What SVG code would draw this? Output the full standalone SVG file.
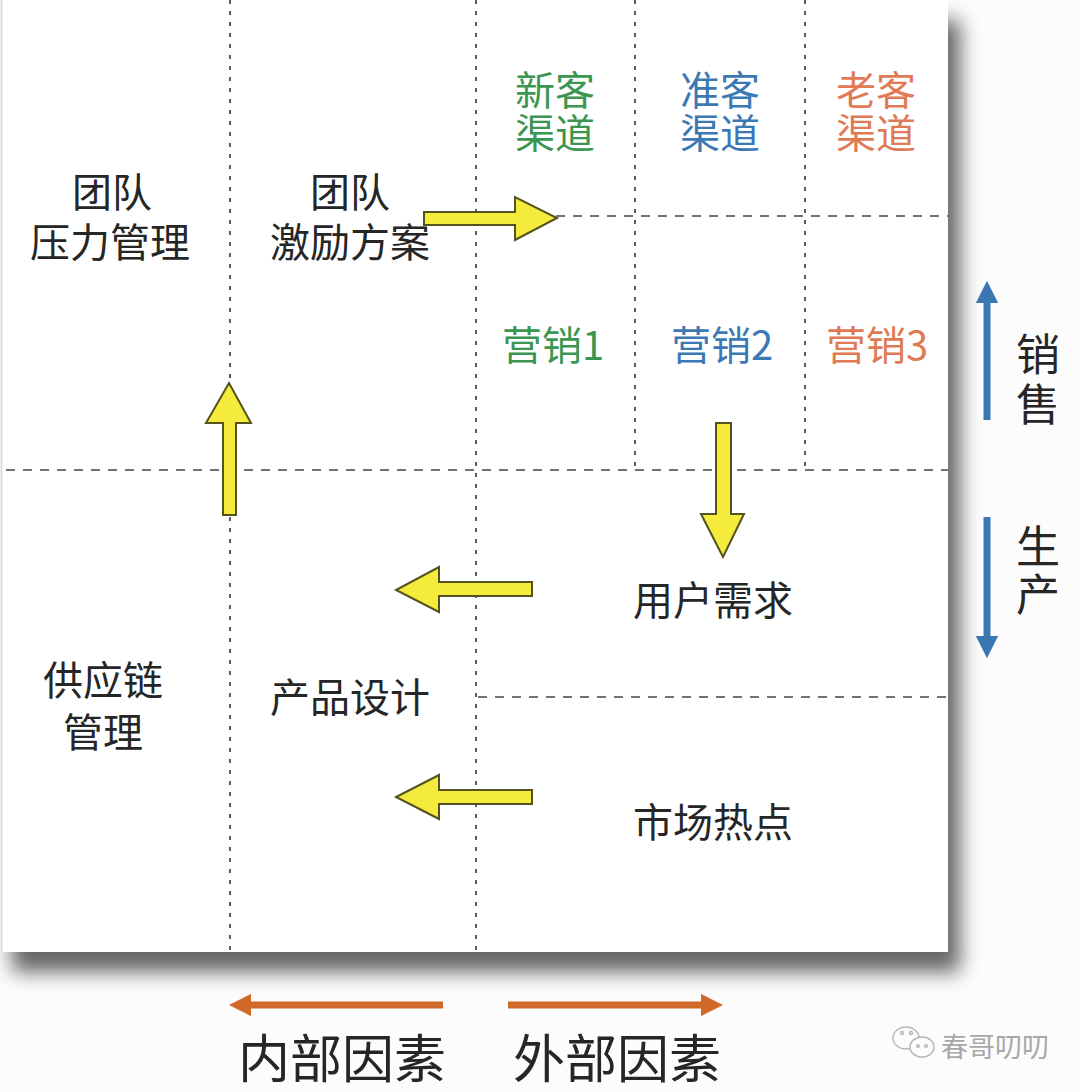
<svg xmlns="http://www.w3.org/2000/svg" width="1080" height="1092" viewBox="0 0 1080 1092">
<defs>
<style>
text{font-family:"Noto Sans CJK SC","Noto Sans",sans-serif;dominant-baseline:central;text-anchor:middle}
.t{font-size:40px;fill:#262626}
.g{font-size:40px;fill:#3a9650}
.b{font-size:40px;fill:#3c78b4}
.o{font-size:40px;fill:#e07a55}
.big{font-size:52px;fill:#262626}
.side{font-size:44px;fill:#262626}
.dv{stroke:#333;stroke-width:1.6;stroke-dasharray:4 7;fill:none}
.dh{stroke:#444;stroke-width:1.6;stroke-dasharray:9 8;fill:none}
.y{fill:#f4eb3c;stroke:#55521e;stroke-width:2;stroke-linejoin:miter}
.bl{stroke:#3a76b2;stroke-width:7;fill:none}
.or{stroke:#d0692a;stroke-width:7;fill:none}
</style>
<filter id="sh" x="-10%" y="-10%" width="130%" height="130%">
<feGaussianBlur in="SourceAlpha" stdDeviation="10"/>
<feOffset dx="12" dy="20"/>
<feComponentTransfer><feFuncA type="linear" slope="0.6"/></feComponentTransfer>
<feMerge><feMergeNode/><feMergeNode in="SourceGraphic"/></feMerge>
</filter>
<marker id="ab" viewBox="0 0 10 10" refX="5" refY="5" markerWidth="3.2" markerHeight="3.2" orient="auto-start-reverse" markerUnits="strokeWidth"><path d="M0,0 L10,5 L0,10 z" fill="#3a76b2"/></marker>
<marker id="ao" viewBox="0 0 10 10" refX="5" refY="5" markerWidth="3.2" markerHeight="3.2" orient="auto-start-reverse" markerUnits="strokeWidth"><path d="M0,0 L10,5 L0,10 z" fill="#d0692a"/></marker>
</defs>
<rect width="1080" height="1092" fill="#fcfcfc"/>
<g id="card">
<rect x="0" y="0" width="948" height="952" fill="#fff" filter="url(#sh)"/>
<line x1="1.5" y1="0" x2="1.5" y2="952" stroke="#ddd" stroke-width="2"/>
</g>
<g id="grid">
<line class="dv" x1="230" y1="0" x2="230" y2="952"/>
<line class="dv" x1="476" y1="0" x2="476" y2="952"/>
<line class="dv" x1="635" y1="0" x2="635" y2="470"/>
<line class="dv" x1="805" y1="0" x2="805" y2="470"/>
<line class="dh" x1="6" y1="470" x2="948" y2="470"/>
<line class="dh" x1="556" y1="216" x2="948" y2="216"/>
<line class="dh" x1="478" y1="697" x2="948" y2="697"/>
</g>
<g id="n-team-pressure"><text class="t" x="112" y="190">团队<tspan x="110" dy="50">压力管理</tspan></text></g>
<g id="n-team-incentive"><text class="t" x="350" y="190">团队<tspan x="350" dy="50">激励方案</tspan></text></g>
<g id="n-new"><text class="g" x="555" y="88">新客<tspan x="555" dy="43">渠道</tspan></text></g>
<g id="n-quasi"><text class="b" x="720" y="88">准客<tspan x="720" dy="43">渠道</tspan></text></g>
<g id="n-old"><text class="o" x="876" y="88">老客<tspan x="876" dy="43">渠道</tspan></text></g>
<g id="n-m1"><text class="g" x="553" y="343">营销1</text></g>
<g id="n-m2"><text class="b" x="722" y="343">营销2</text></g>
<g id="n-m3"><text class="o" x="877" y="343">营销3</text></g>
<g id="n-demand"><text class="t" x="713" y="598">用户需求</text></g>
<g id="n-design"><text class="t" x="350" y="695">产品设计</text></g>
<g id="n-supply"><text class="t" x="103" y="678">供应链<tspan x="103" dy="52">管理</tspan></text></g>
<g id="n-hot"><text class="t" x="713" y="820">市场热点</text></g>
<g id="n-sales"><text class="side" x="1038" y="352">销<tspan x="1038" dy="50">售</tspan></text></g>
<g id="n-prod"><text class="side" x="1038" y="544">生<tspan x="1038" dy="48">产</tspan></text></g>
<g id="n-inner"><text class="big" x="342" y="1055">内部因素</text></g>
<g id="n-outer"><text class="big" x="617" y="1055">外部因素</text></g>
<g id="connectors">
<polygon class="y" points="424,212 515,212 515,197 557,218 515,240 515,225 424,225"/>
<polygon class="y" points="223,515 223,423 206,423 229,383 251,423 236,423 236,515"/>
<polygon class="y" points="716,423 731,423 731,514 744,514 723,557 701,514 716,514"/>
<polygon class="y" points="532,582 439,582 439,567 396,590 439,612 439,596 532,596"/>
<polygon class="y" points="532,790 439,790 439,775 396,797 439,819 439,804 532,804"/>
<line class="bl" x1="987" y1="420" x2="987" y2="292" marker-end="url(#ab)"/>
<line class="bl" x1="987" y1="517" x2="987" y2="647" marker-end="url(#ab)"/>
<line class="or" x1="443" y1="1005" x2="240" y2="1005" marker-end="url(#ao)"/>
<line class="or" x1="508" y1="1005" x2="712" y2="1005" marker-end="url(#ao)"/>
</g>
<g id="watermark" fill="none" stroke="#b8b8b8" stroke-width="1.5">
<ellipse cx="906" cy="1038" rx="13" ry="11"/>
<ellipse cx="922" cy="1047" rx="12" ry="10" fill="#fcfcfc"/>
<circle cx="902" cy="1033" r="1.5"/><circle cx="911" cy="1033" r="1.5"/>
<circle cx="918" cy="1046" r="1.3"/><circle cx="926" cy="1046" r="1.3"/>
<text x="995" y="1045" style="font-size:27px;fill:#a8a8a8;stroke:none">春哥叨叨</text>
</g>
</svg>
